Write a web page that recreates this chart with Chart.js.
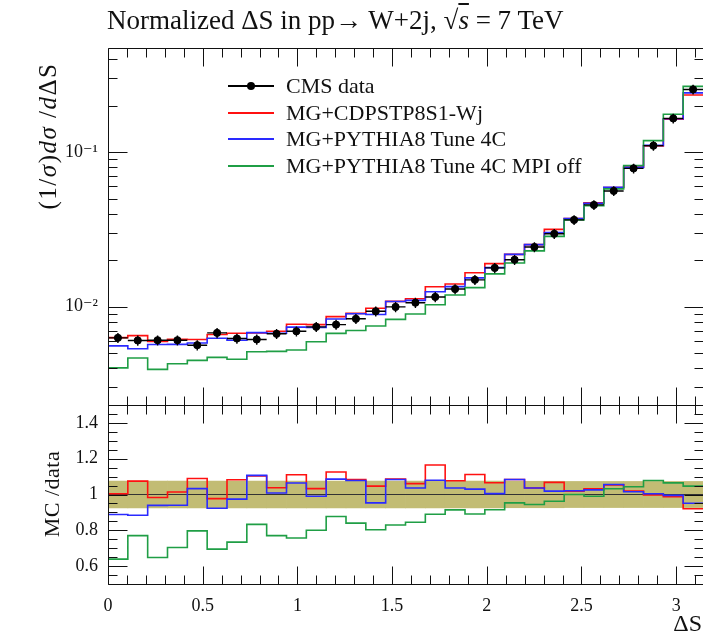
<!DOCTYPE html>
<html>
<head>
<meta charset="utf-8">
<script src="https://cdn.jsdelivr.net/npm/chart.js"></script>
<style>
  body { margin: 0; background: #fff; }
  #wrap { position: relative; width: 703px; height: 634px; overflow: hidden;
          font-family: 'Liberation Serif', 'DejaVu Serif', serif; color: #111; }
  #wrap canvas { position: absolute; left: 0; top: 0; }
  .title { position: absolute; left: 107px; top: 5px; font-size: 27px; line-height: 30px; white-space: nowrap; }
  .ov { text-decoration: overline; }
  .leg-row { position: absolute; left: 228px; height: 26px; width: 440px; font-size: 22px; line-height: 26px; white-space: nowrap; }
  .leg-line { position: absolute; left: 0; top: 12px; width: 46px; height: 2px; }
  .leg-dot { position: absolute; left: 19px; top: 9px; width: 8px; height: 8px; border-radius: 50%; background: #000; }
  .leg-text { position: absolute; left: 58px; top: 0; }
  .ylab { position: absolute; white-space: nowrap; transform: translate(-50%, -50%) rotate(-90deg); line-height: 28px; }
  .xlab { position: absolute; right: 1px; top: 609px; font-size: 24px; line-height: 28px; }
</style>
</head>
<body>
<div id="wrap">
  <canvas id="main" width="703" height="634"></canvas>
  <canvas id="ratio" width="703" height="634"></canvas>
  <div class="title">Normalized ΔS in pp→ W+2j, √<span class="ov"><i>s</i></span> = 7 TeV</div>
  <div id="legend"></div>
  <div class="ylab" style="left:48px; top:136px; font-size:25px; letter-spacing:1.5px;">(1/<i>σ</i>)<i>dσ</i> /<i>d</i>ΔS</div>
  <div class="ylab" style="left:52px; top:494px; font-size:22px; letter-spacing:0.5px;">MC /data</div>
  <div class="xlab">ΔS</div>
</div>
<script>
// 30 bins of ΔS between 0 and pi
const nBins = 30;
const binEdges = Array.from({length: nBins + 1}, (_, i) => i * Math.PI / nBins);
const binCenters = binEdges.slice(0, nBins).map((e, i) => (e + binEdges[i + 1]) / 2);

// measured (1/sigma) dsigma/dDeltaS per bin
const dataLabel = 'CMS data';
const cmsData = [0.00628, 0.00604, 0.00606, 0.00606, 0.00563, 0.00676, 0.00622, 0.00613, 0.00667, 0.00693,
                 0.0074, 0.00765, 0.00834, 0.00933, 0.00996, 0.0106, 0.01155, 0.0130, 0.0149, 0.0178,
                 0.0201, 0.0243, 0.0296, 0.0364, 0.0455, 0.0560, 0.0784, 0.110, 0.165, 0.254];
// relative uncertainty of the data (error bars and ratio band)
const cmsErr = [0.075, 0.075, 0.075, 0.075, 0.075, 0.075, 0.075, 0.075, 0.075, 0.075,
                0.075, 0.075, 0.075, 0.075, 0.075, 0.075, 0.075, 0.075, 0.075, 0.075,
                0.074, 0.074, 0.074, 0.073, 0.073, 0.073, 0.073, 0.073, 0.073, 0.073];

// MC / data ratios
const seriesLabels = ['MG+CDPSTP8S1-Wj', 'MG+PYTHIA8 Tune 4C', 'MG+PYTHIA8 Tune 4C MPI off'];
const seriesColors = ['#ff1010', '#2a2aff', '#1f9e45'];
const ratioCdp = [1.004, 1.075, 0.983, 1.014, 1.089, 0.977, 1.082, 1.103, 1.038, 1.110,
                  1.033, 1.126, 1.084, 1.047, 1.086, 1.061, 1.165, 1.077, 1.112, 1.066,
                  1.084, 1.036, 1.068, 1.019, 1.032, 1.054, 1.019, 0.997, 0.988, 0.920];
const ratio4C = [0.888, 0.884, 0.939, 0.940, 1.033, 0.923, 0.974, 1.107, 1.008, 1.064,
                 0.990, 1.086, 1.078, 0.953, 1.084, 1.036, 1.080, 1.036, 1.030, 1.005,
                 1.084, 1.036, 1.019, 1.021, 1.026, 1.056, 1.015, 1.004, 0.995, 0.951];
const ratioMpiOff = [0.639, 0.770, 0.648, 0.704, 0.797, 0.695, 0.734, 0.833, 0.770, 0.757,
                     0.800, 0.877, 0.840, 0.803, 0.830, 0.845, 0.890, 0.914, 0.891, 0.915,
                     0.953, 0.944, 0.962, 1.000, 0.990, 1.032, 1.043, 1.078, 1.065, 1.047];
const ratios = [ratioCdp, ratio4C, ratioMpiOff];

// axis ticks
const xTickValues = [0, 0.5, 1, 1.5, 2, 2.5, 3];
const xTickLabels = ['0', '0.5', '1', '1.5', '2', '2.5', '3'];
const mainYTicks = [0.01, 0.1];
const mainYLabels = ['10⁻²', '10⁻¹'];
const ratioYTicks = [0.6, 0.8, 1, 1.2, 1.4];
const ratioYLabels = ['0.6', '0.8', '1', '1.2', '1.4'];

const tickFont = { family: "'Liberation Serif', 'DejaVu Serif', serif", size: 18 };

// histogram outline: one point per bin edge, last value repeated
const steps = vals => binEdges.map((e, i) => ({ x: e, y: vals[Math.min(i, vals.length - 1)] }));

// frame with inward ticks on all four sides
const frameTicks = {
  id: 'frameTicks',
  afterDraw(chart, args, opts) {
    const { ctx, chartArea: a, scales } = chart;
    const L = Math.round(a.left) + 0.5, R = Math.round(a.right) + 0.5;
    const T = Math.round(a.top) + 0.5, B = Math.round(a.bottom) + 0.5;
    ctx.save();
    ctx.strokeStyle = '#111';
    ctx.lineWidth = 1;
    ctx.beginPath();
    ctx.rect(L, T, R - L, B - T);
    opts.xTicks.forEach(([v, len]) => {
      const px = Math.round(scales.x.getPixelForValue(v)) + 0.5;
      ctx.moveTo(px, T); ctx.lineTo(px, T + len);
      ctx.moveTo(px, B); ctx.lineTo(px, B - len);
    });
    opts.yTicks.forEach(([v, len]) => {
      const py = Math.round(scales.y.getPixelForValue(v)) + 0.5;
      ctx.moveTo(L, py); ctx.lineTo(L + len, py);
      ctx.moveTo(R, py); ctx.lineTo(R - len, py);
    });
    ctx.stroke();
    ctx.restore();
  }
};

// horizontal bin-width bars and vertical uncertainty bars for the data
const dataErrorBars = {
  id: 'dataErrorBars',
  afterDatasetsDraw(chart) {
    const { ctx, scales: { x, y } } = chart;
    ctx.save();
    ctx.strokeStyle = '#000';
    ctx.lineWidth = 1.4;
    ctx.beginPath();
    cmsData.forEach((v, i) => {
      const yc = y.getPixelForValue(v);
      ctx.moveTo(x.getPixelForValue(binEdges[i]), yc);
      ctx.lineTo(x.getPixelForValue(binEdges[i + 1]), yc);
      const xc = x.getPixelForValue(binCenters[i]);
      ctx.moveTo(xc, y.getPixelForValue(v * (1 + cmsErr[i])));
      ctx.lineTo(xc, y.getPixelForValue(v * (1 - cmsErr[i])));
    });
    ctx.stroke();
    ctx.restore();
  }
};

const xTickMarks = Array.from({length: 32}, (_, i) => [i / 10, i % 5 === 0 ? 18 : 9]);

const logTickMarks = [];
[0.001, 0.01, 0.1].forEach(dec => {
  for (let m = 1; m <= 9; m++) logTickMarks.push([m * dec, m === 1 ? 19 : 9]);
});

const ratioTickMarks = Array.from({length: 21}, (_, j) => [(j + 10) * 0.05, (j + 10) % 4 === 0 ? 19 : 9]);

// top panel: normalised distribution
new Chart(document.getElementById('main'), {
  type: 'line',
  data: {
    datasets: [
      ...ratios.map((r, k) => ({
        label: seriesLabels[k],
        data: steps(r.map((v, i) => v * cmsData[i])),
        borderColor: seriesColors[k],
        borderWidth: 1.6,
        stepped: true,
        pointRadius: 0,
        fill: false,
        order: 3 - k
      })),
      {
        type: 'scatter',
        label: dataLabel,
        data: cmsData.map((v, i) => ({ x: binCenters[i], y: v })),
        pointRadius: 3.6,
        pointStyle: 'circle',
        backgroundColor: '#000',
        borderColor: '#000',
        order: 0
      }
    ]
  },
  options: {
    responsive: false,
    animation: false,
    layout: { autoPadding: false, padding: { top: 48, right: 0, bottom: 229, left: 0 } },
    plugins: {
      legend: { display: false },
      tooltip: { enabled: false },
      frameTicks: { xTicks: xTickMarks, yTicks: logTickMarks.filter(t => t[0] > 0.00231 && t[0] < 0.471) }
    },
    scales: {
      x: { type: 'linear', min: 0, max: Math.PI, display: false },
      y: {
        type: 'logarithmic',
        min: 0.00231,
        max: 0.471,
        afterFit: s => { s.width = 108; },
        afterBuildTicks: s => { s.ticks = mainYTicks.map(v => ({ value: v, major: true })); },
        ticks: {
          font: tickFont, color: '#111', padding: 10, autoSkip: false,
          callback: v => mainYLabels[mainYTicks.indexOf(v)] ?? ''
        },
        grid: { display: false, drawTicks: false },
        border: { display: false }
      }
    }
  },
  plugins: [frameTicks, dataErrorBars]
});

// bottom panel: MC / data
new Chart(document.getElementById('ratio'), {
  type: 'line',
  data: {
    datasets: [
      {
        type: 'bar',
        label: dataLabel + ' uncertainty',
        data: binCenters.map((c, i) => ({ x: c, y: [1 - cmsErr[i], 1 + cmsErr[i]] })),
        backgroundColor: '#c2bc74',
        borderWidth: 0,
        barPercentage: 1,
        categoryPercentage: 1,
        grouped: false,
        order: 10
      },
      {
        label: dataLabel,
        data: steps(cmsData.map(v => v / v)),
        borderColor: '#333',
        borderWidth: 1.2,
        stepped: true,
        pointRadius: 0,
        order: 5
      },
      ...ratios.map((r, k) => ({
        label: seriesLabels[k],
        data: steps(r),
        borderColor: seriesColors[k],
        borderWidth: 1.6,
        stepped: true,
        pointRadius: 0,
        fill: false,
        order: 3 - k
      }))
    ]
  },
  options: {
    responsive: false,
    animation: false,
    layout: { autoPadding: false, padding: { top: 405, right: 0, bottom: 0, left: 0 } },
    plugins: {
      legend: { display: false },
      tooltip: { enabled: false },
      frameTicks: { xTicks: xTickMarks, yTicks: ratioTickMarks }
    },
    scales: {
      x: {
        type: 'linear', min: 0, max: Math.PI, offset: false,
        afterFit: s => { s.height = 50; },
        afterBuildTicks: s => { s.ticks = xTickValues.map(v => ({ value: v })); },
        ticks: {
          font: tickFont, color: '#111', padding: 11, autoSkip: false, maxRotation: 0,
          callback: v => xTickLabels[xTickValues.indexOf(v)] ?? ''
        },
        grid: { display: false, drawTicks: false },
        border: { display: false }
      },
      y: {
        type: 'linear', min: 0.5, max: 1.5,
        afterFit: s => { s.width = 108; },
        afterBuildTicks: s => { s.ticks = ratioYTicks.map(v => ({ value: v })); },
        ticks: {
          font: tickFont, color: '#111', padding: 10, autoSkip: false,
          callback: v => ratioYLabels[ratioYTicks.indexOf(v)] ?? ''
        },
        grid: { display: false, drawTicks: false },
        border: { display: false }
      }
    }
  },
  plugins: [frameTicks]
});

// legend inside the top panel
const legend = document.getElementById('legend');
const legendRows = [{ label: dataLabel, color: '#000', dot: true }]
  .concat(seriesLabels.map((l, k) => ({ label: l, color: seriesColors[k] })));
legendRows.forEach((row, i) => {
  const el = document.createElement('div');
  el.className = 'leg-row';
  el.style.top = (73 + i * 26.6) + 'px';
  el.innerHTML = '<span class="leg-line" style="background:' + row.color + '"></span>' +
    (row.dot ? '<span class="leg-dot"></span>' : '') +
    '<span class="leg-text">' + row.label + '</span>';
  legend.appendChild(el);
});
</script>
</body>
</html>
